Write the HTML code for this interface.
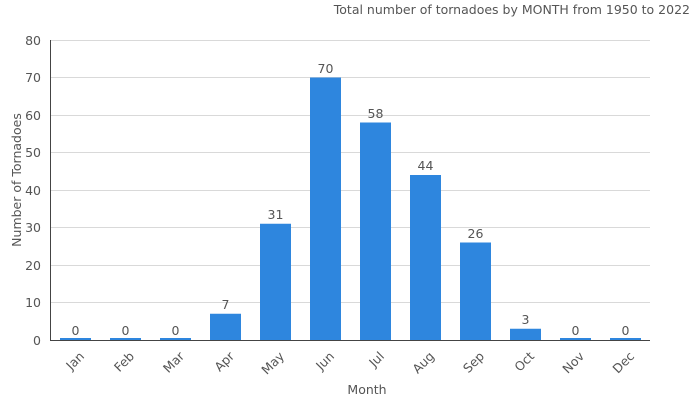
<!DOCTYPE html>
<html><head><style>body{margin:0;background:#fff}svg{display:block}text{font-family:"DejaVu Sans","Liberation Sans",sans-serif;fill:#555}</style></head><body>
<svg width="700" height="400" xmlns="http://www.w3.org/2000/svg">
<text x="690" y="14" text-anchor="end" font-size="12.5">Total number of tornadoes by MONTH from 1950 to 2022</text>
<g stroke="#d9d9d9" stroke-width="1">
<line x1="50" x2="650" y1="302.5" y2="302.5"/><line x1="50" x2="650" y1="265.5" y2="265.5"/><line x1="50" x2="650" y1="227.5" y2="227.5"/><line x1="50" x2="650" y1="190.5" y2="190.5"/><line x1="50" x2="650" y1="152.5" y2="152.5"/><line x1="50" x2="650" y1="115.5" y2="115.5"/><line x1="50" x2="650" y1="77.5" y2="77.5"/><line x1="50" x2="650" y1="40.5" y2="40.5"/>
</g>
<g font-size="12.5" text-anchor="end">
<text x="41" y="345">0</text><text x="41" y="307">10</text><text x="41" y="270">20</text><text x="41" y="232">30</text><text x="41" y="195">40</text><text x="41" y="157">50</text><text x="41" y="120">60</text><text x="41" y="82">70</text><text x="41" y="45">80</text>
</g>
<text transform="translate(21,180) rotate(-90)" text-anchor="middle" font-size="12.5">Number of Tornadoes</text>
<text x="367" y="394" text-anchor="middle" font-size="12.5">Month</text>
<g fill="#2e86de">
<rect x="60" y="338" width="31" height="2"/><rect x="110" y="338" width="31" height="2"/><rect x="160" y="338" width="31" height="2"/>
<rect x="210" y="313.75" width="31" height="26.25"/><rect x="260" y="223.75" width="31" height="116.25"/><rect x="310" y="77.5" width="31" height="262.5"/>
<rect x="360" y="122.5" width="31" height="217.5"/><rect x="410" y="175" width="31" height="165"/><rect x="460" y="242.5" width="31" height="97.5"/>
<rect x="510" y="328.75" width="31" height="11.25"/><rect x="560" y="338" width="31" height="2"/><rect x="610" y="338" width="31" height="2"/>
</g>
<g font-size="12.5" text-anchor="middle">
<text x="75.5" y="335">0</text><text x="125.5" y="335">0</text><text x="175.5" y="335">0</text><text x="225.5" y="309">7</text><text x="275.5" y="219">31</text><text x="325.5" y="73">70</text><text x="375.5" y="118">58</text><text x="425.5" y="170">44</text><text x="475.5" y="238">26</text><text x="525.5" y="324">3</text><text x="575.5" y="335">0</text><text x="625.5" y="335">0</text>
</g>
<line x1="50.5" y1="40" x2="50.5" y2="340" stroke="#444"/>
<line x1="50" y1="340.5" x2="650" y2="340.5" stroke="#444"/>
<g font-size="12.5" text-anchor="end">
<text transform="translate(85,357) rotate(-45)">Jan</text><text transform="translate(135,357) rotate(-45)">Feb</text><text transform="translate(185,357) rotate(-45)">Mar</text><text transform="translate(235,357) rotate(-45)">Apr</text><text transform="translate(285,357) rotate(-45)">May</text><text transform="translate(335,357) rotate(-45)">Jun</text><text transform="translate(385,357) rotate(-45)">Jul</text><text transform="translate(435,357) rotate(-45)">Aug</text><text transform="translate(485,357) rotate(-45)">Sep</text><text transform="translate(535,357) rotate(-45)">Oct</text><text transform="translate(585,357) rotate(-45)">Nov</text><text transform="translate(635,357) rotate(-45)">Dec</text>
</g>
</svg>
</body></html>
